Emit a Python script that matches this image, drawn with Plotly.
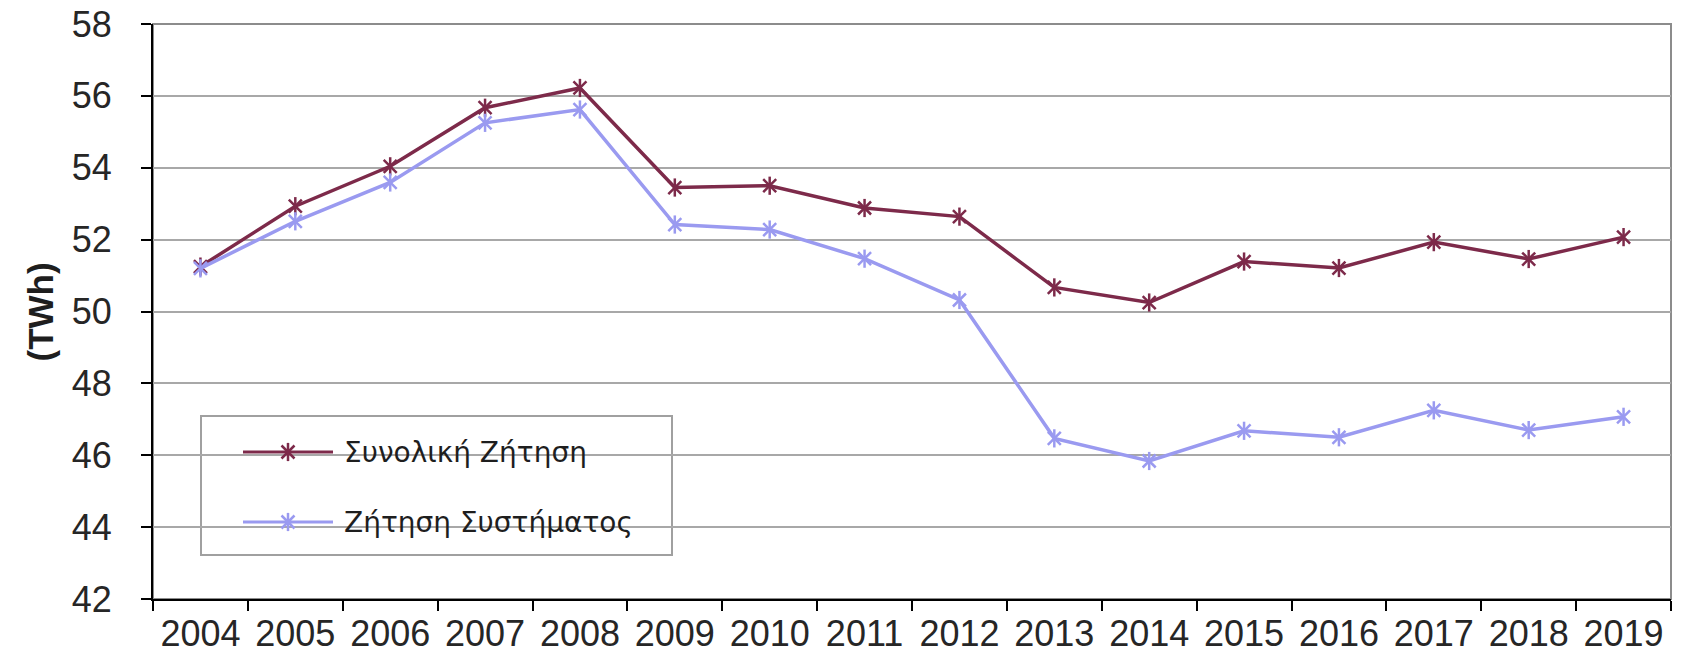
import plotly.graph_objects as go

# Annual electricity demand (TWh)
years = [str(y) for y in range(2004, 2020)]
total_demand = [51.25, 52.93, 54.04, 55.67, 56.22, 53.45, 53.50, 52.88,
                52.64, 50.67, 50.25, 51.39, 51.21, 51.93, 51.46, 52.07]
system_demand = [51.20, 52.51, 53.59, 55.25, 55.62, 52.42, 52.28, 51.47,
                 50.32, 46.47, 45.84, 46.68, 46.50, 47.25, 46.70, 47.07]
series_names = ["Συνολική Ζήτηση", "Ζήτηση Συστήματος"]
y_ticks = list(range(42, 59, 2))
y_title = "(TWh)"

colors = ["#7d2a4a", "#9a9af0"]

W, H = 1682, 661
L, R, T, B = 153, 11, 24, 62


def px(x):
    return (x - L) / (W - L - R)


def py(y):
    return (H - B - y) / (H - T - B)


def star(col):
    return dict(size=13, color=col, line=dict(color=col, width=2.5))


fig = go.Figure()

# Data series: line with an "X" marker plus a vertical bar (star marker)
for name, vals, col in zip(series_names, [total_demand, system_demand], colors):
    fig.add_trace(go.Scatter(
        x=years, y=vals, mode="lines+markers", name=name,
        line=dict(color=col, width=3.5),
        marker=dict(symbol="x-thin-open", **star(col)),
        showlegend=False, cliponaxis=False,
    ))
    fig.add_trace(go.Scatter(
        x=years, y=vals, mode="markers",
        marker=dict(symbol="line-ns-open", **star(col)),
        showlegend=False, hoverinfo="skip", cliponaxis=False,
    ))

# Legend box with its line samples
legend_rows = [452, 522]
for name, col, ry in zip(series_names, colors, legend_rows):
    fig.add_trace(go.Scatter(
        x=[px(243), px(333)], y=[py(ry), py(ry)], mode="lines",
        line=dict(color=col, width=3), xaxis="x2", yaxis="y2",
        showlegend=False, hoverinfo="skip",
    ))
    for sym in ["x-thin-open", "line-ns-open"]:
        fig.add_trace(go.Scatter(
            x=[px(288)], y=[py(ry)], mode="markers",
            marker=dict(symbol=sym, **star(col)),
            xaxis="x2", yaxis="y2", showlegend=False, hoverinfo="skip",
        ))
    fig.add_annotation(
        x=px(342), y=py(ry), xref="paper", yref="paper",
        text=name, showarrow=False, xanchor="left", yanchor="middle",
        font=dict(family="DejaVu Sans", size=28, color="#1e1e1e"),
    )

shapes = [
    # plot-area frame
    dict(type="rect", xref="paper", yref="paper", x0=0, x1=1, y0=0, y1=1,
         line=dict(color="#8c8c8c", width=2), layer="below"),
    # legend frame
    dict(type="rect", xref="paper", yref="paper",
         x0=px(201), x1=px(672), y0=py(555), y1=py(416),
         line=dict(color="#a0a0a0", width=2), fillcolor="white", layer="between"),
]

fig.add_annotation(
    x=px(40), y=0.5, xref="paper", yref="paper", text=y_title,
    textangle=-90, showarrow=False, xanchor="center", yanchor="middle",
    font=dict(family="Liberation Sans", size=35, color="#1e1e1e", weight="bold"),
)

tick_font = dict(family="Liberation Sans", size=36, color="#262626")

fig.update_layout(
    width=W, height=H,
    margin=dict(l=L, r=R, t=T, b=B, autoexpand=False),
    paper_bgcolor="white", plot_bgcolor="white",
    shapes=shapes,
    xaxis=dict(
        type="category", categoryorder="array", categoryarray=years,
        range=[-0.5, len(years) - 0.5], tickson="boundaries",
        ticks="outside", ticklen=10, tickwidth=2, tickcolor="black",
        showline=True, linecolor="black", linewidth=2,
        showgrid=False, tickfont=tick_font, ticklabelstandoff=2,
        fixedrange=True,
    ),
    yaxis=dict(
        range=[42, 58], tickvals=y_ticks, ticktext=[str(v) for v in y_ticks],
        ticks="outside", ticklen=10, tickwidth=2, tickcolor="black",
        showline=True, linecolor="black", linewidth=2,
        showgrid=True, gridcolor="#a8a8a8", gridwidth=2,
        zeroline=False, tickfont=tick_font, ticklabelstandoff=22,
        fixedrange=True,
    ),
    xaxis2=dict(overlaying="x", range=[0, 1], visible=False, fixedrange=True),
    yaxis2=dict(overlaying="y", range=[0, 1], visible=False, fixedrange=True),
    showlegend=False,
)

fig.write_html("out.html")
